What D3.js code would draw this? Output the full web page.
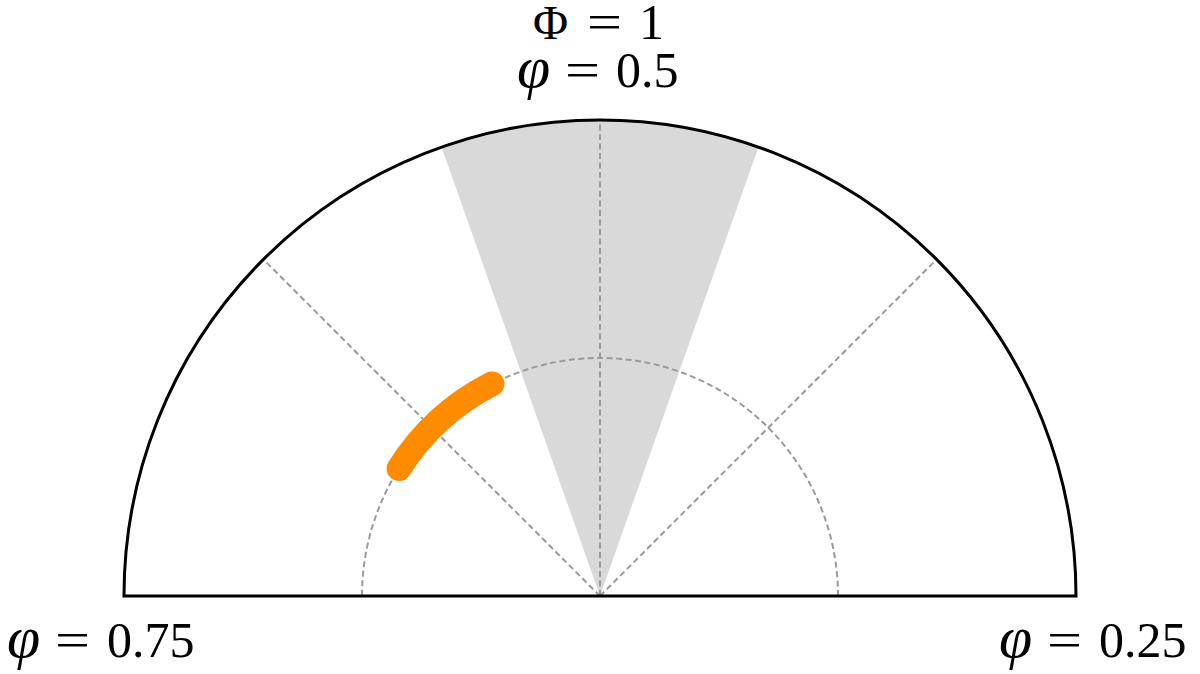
<!DOCTYPE html>
<html>
<head>
<meta charset="utf-8">
<script src="https://cdn.jsdelivr.net/npm/d3@7"></script>
<style>
  html, body { margin: 0; padding: 0; background: #fff; }
  text { font-family: 'Liberation Serif', 'DejaVu Serif', serif; fill: #000; font-size: 50px; }
</style>
</head>
<body>
<svg id="chart"></svg>
<script>
// phase values (0.25 = right, 0.5 = top, 0.75 = left)
const gridPhases = [0.375, 0.5, 0.625];
const gridRadii = [0.5];
const wedgePhases = [0.446, 0.554];
const trackPhases = [0.575, 0.66];
const trackRadius = 0.5;
const labelSyms = ['φ', 'φ', 'φ', 'Φ'];
const labelVals = ['0.75', '0.25', '0.5', '1'];

const width = 1200;
const height = 674;
const cx = 600;
const cy = 596;
const R = 476;

const svg = d3.select('#chart').attr('width', width).attr('height', height);
const g = svg.append('g').attr('transform', 'translate(' + cx + ',' + cy + ')');

// d3.arc angle: clockwise from 12 o'clock
const angle = d3.scaleLinear().domain([0.25, 0.75]).range([Math.PI / 2, -Math.PI / 2]);
const radius = d3.scaleLinear().domain([0, 1]).range([0, R]);
// svg path angle: clockwise from 3 o'clock
const svgAngle = (p) => angle(p) - Math.PI / 2;

// grey wedge
g.append('path')
  .attr('d', d3.arc()({
    innerRadius: 0,
    outerRadius: radius(1),
    startAngle: angle(wedgePhases[0]),
    endAngle: angle(wedgePhases[1])
  }))
  .attr('fill', '#d9d9d9');

// dashed spokes
g.selectAll('line.spoke')
  .data(gridPhases)
  .enter()
  .append('line')
  .attr('class', 'spoke')
  .attr('x1', 0)
  .attr('y1', 0)
  .attr('x2', (p) => radius(1) * Math.sin(angle(p)))
  .attr('y2', (p) => -radius(1) * Math.cos(angle(p)))
  .attr('stroke', '#9a9a9a')
  .attr('stroke-width', 2)
  .attr('stroke-dasharray', '6,3.5');

// dashed ring
g.selectAll('path.ring')
  .data(gridRadii)
  .enter()
  .append('path')
  .attr('class', 'ring')
  .attr('d', (r) => {
    const p = d3.path();
    p.arc(0, 0, radius(r), svgAngle(0.25), svgAngle(0.75), true);
    return p.toString();
  })
  .attr('fill', 'none')
  .attr('stroke', '#9a9a9a')
  .attr('stroke-width', 2)
  .attr('stroke-dasharray', '6,3.5');

// orange phase track
const track = d3.path();
track.arc(0, 0, radius(trackRadius), svgAngle(trackPhases[0]), svgAngle(trackPhases[1]), true);
g.append('path')
  .attr('d', track.toString())
  .attr('fill', 'none')
  .attr('stroke', '#ff8c00')
  .attr('stroke-width', 25)
  .attr('stroke-linecap', 'round');

// outer frame: half circle + diameter
g.append('path')
  .attr('d', d3.arc()({
    innerRadius: 0,
    outerRadius: radius(1),
    startAngle: angle(0.75),
    endAngle: angle(0.25)
  }))
  .attr('fill', 'none')
  .attr('stroke', '#000')
  .attr('stroke-width', 3);

// labels: symbol, "=", value placed one by one (math-like spacing)
const labelLayout = [
  { left: 5, base: 657, eqX: 50, valX: 102 },
  { left: 997, base: 657, eqX: 50, valX: 102 },
  { left: 515, base: 87, eqX: 50, valX: 101 },
  { left: 533, base: 39, eqX: 54, valX: 106 }
];
labelLayout.forEach((l, i) => {
  const greek = labelSyms[i] === 'φ';
  const lg = svg.append('g').attr('transform', 'translate(' + l.left + ',' + l.base + ')');
  lg.append('text')
    .attr('x', greek ? 2 : 0)
    .style('font-style', greek ? 'italic' : 'normal')
    .style('font-size', greek ? '60px' : '48px')
    .style('font-weight', 300)
    .text(labelSyms[i]);
  lg.append('text')
    .attr('x', l.eqX)
    .attr('textLength', 35)
    .attr('lengthAdjust', 'spacingAndGlyphs')
    .text('=');
  lg.append('text')
    .attr('x', l.valX)
    .text(labelVals[i]);
});
</script>
</body>
</html>
